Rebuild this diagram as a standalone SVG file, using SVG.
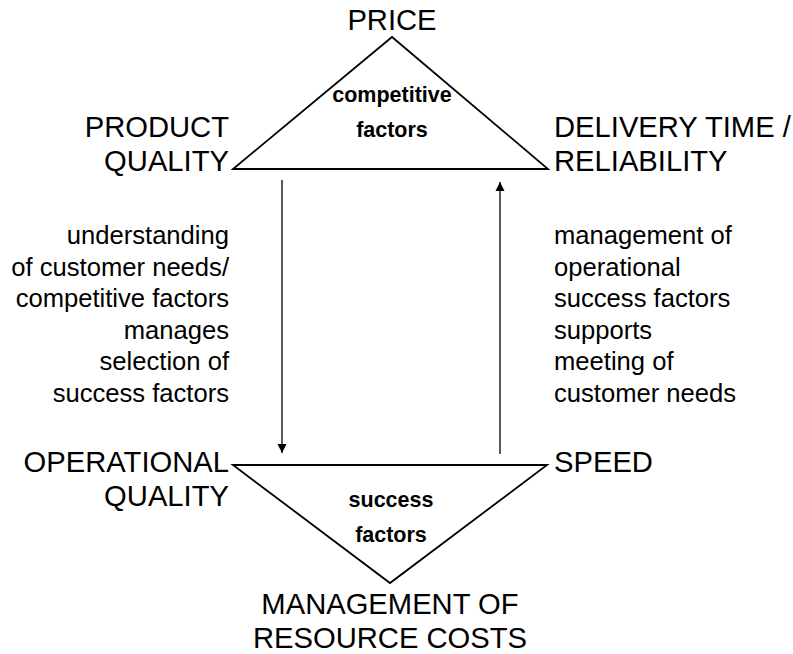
<svg xmlns="http://www.w3.org/2000/svg" width="793" height="654" viewBox="0 0 793 654">
<style>
.cap{font-family:"Liberation Sans",Arial,sans-serif;font-size:29.2px;fill:#000}
.mid{font-family:"Liberation Sans",Arial,sans-serif;font-size:25.6px;fill:#000}
.in{font-family:"Liberation Sans",Arial,sans-serif;font-size:21.5px;font-weight:bold;fill:#000;text-anchor:middle}
.tri{fill:#fff;stroke:#000;stroke-width:1.8;stroke-linejoin:miter}
.conn{stroke:#000;stroke-width:1.3;fill:none}
</style>
<defs>
<marker id="ah" viewBox="0 0 10 10" refX="10" refY="5" markerWidth="9" markerHeight="11" markerUnits="userSpaceOnUse" orient="auto">
<path d="M0,0 L10,5 L0,10 z" fill="#000"/>
</marker>
</defs>
<rect width="793" height="654" fill="#fff"/>
<g id="competitive-factors">
<polygon class="tri" points="392,37 233,169 548,169"/>
<text class="in" x="392" y="102">competitive</text>
<text class="in" x="392" y="137">factors</text>
</g>
<g id="success-factors">
<polygon class="tri" points="233,465 547,465 390,583"/>
<text class="in" x="391" y="507">success</text>
<text class="in" x="391" y="542">factors</text>
</g>
<g id="price"><text class="cap" x="392" y="30" text-anchor="middle">PRICE</text></g>
<g id="product-quality" text-anchor="end">
<text class="cap" x="229" y="137">PRODUCT</text>
<text class="cap" x="229" y="171">QUALITY</text>
</g>
<g id="delivery">
<text class="cap" x="554" y="137">DELIVERY TIME /</text>
<text class="cap" x="554" y="171">RELIABILITY</text>
</g>
<g id="operational-quality" text-anchor="end">
<text class="cap" x="229" y="472">OPERATIONAL</text>
<text class="cap" x="229" y="506">QUALITY</text>
</g>
<g id="speed"><text class="cap" x="554" y="472">SPEED</text></g>
<g id="resource-costs" text-anchor="middle">
<text class="cap" x="390" y="614">MANAGEMENT OF</text>
<text class="cap" x="390" y="648">RESOURCE COSTS</text>
</g>
<g id="left-label" text-anchor="end">
<text class="mid" x="229" y="244">understanding</text>
<text class="mid" x="229" y="275.5">of customer needs/</text>
<text class="mid" x="229" y="307">competitive factors</text>
<text class="mid" x="229" y="338.5">manages</text>
<text class="mid" x="229" y="370">selection of</text>
<text class="mid" x="229" y="401.5">success factors</text>
</g>
<g id="right-label">
<text class="mid" x="554" y="244">management of</text>
<text class="mid" x="554" y="275.5">operational</text>
<text class="mid" x="554" y="307">success factors</text>
<text class="mid" x="554" y="338.5">supports</text>
<text class="mid" x="554" y="370">meeting of</text>
<text class="mid" x="554" y="401.5">customer needs</text>
</g>
<g id="connectors">
<line class="conn" x1="282" y1="180" x2="282" y2="453" marker-end="url(#ah)"/>
<line class="conn" x1="500" y1="454" x2="500" y2="182" marker-end="url(#ah)"/>
</g>
</svg>
